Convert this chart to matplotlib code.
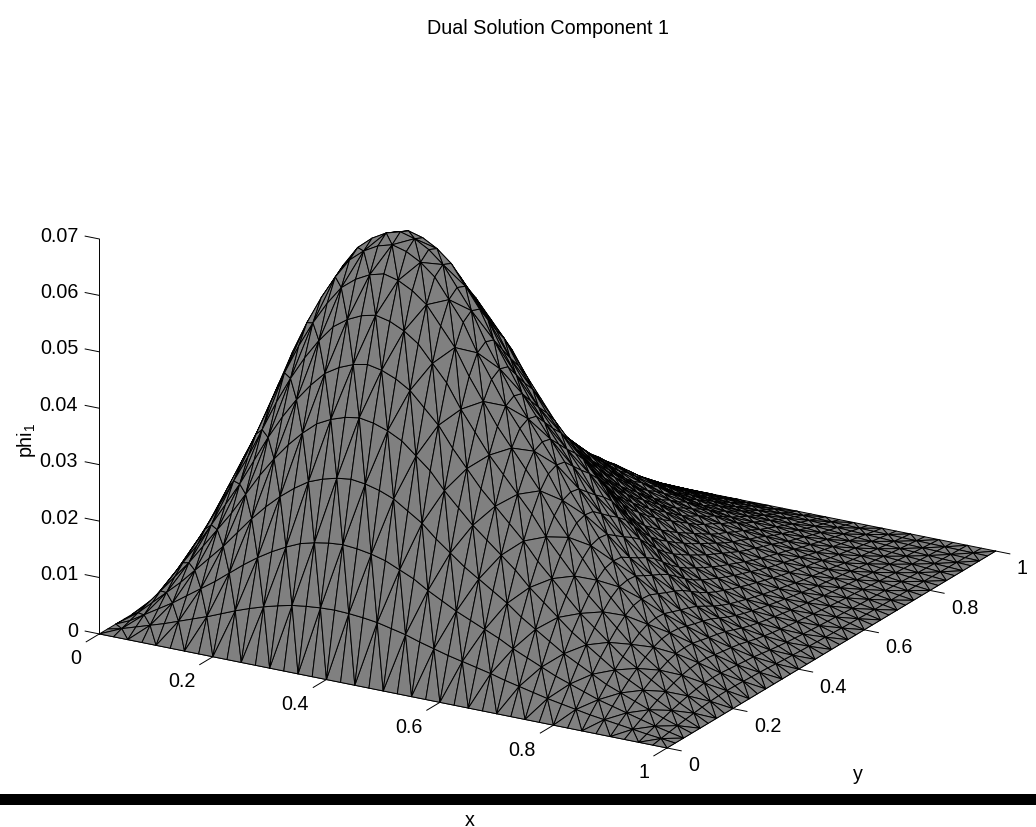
#surface plot of dual solution component 1, gray faces with black triangle mesh
import numpy as np
import matplotlib
matplotlib.use("Agg")
import matplotlib.pyplot as plt
from matplotlib.patches import Rectangle
from matplotlib.transforms import offset_copy

plt.rcParams['font.family'] = ['Liberation Sans', 'DejaVu Sans']
plt.rcParams['mathtext.default'] = 'regular'

#profiles, relative to the peak height
peak = 0.0715
x_nodes = [0,.025,.05,.075,.1,.125,.15,.175,.2,.225,.25,.275,.3,.325,.35,.375,.4,.425,.45,.475,.5,
           .525,.55,.575,.6,.625,.65,.675,.7,.725,.75,.775,.8,.825,.85,.875,.9,.925,.95,.975,1]
x_profile = [0,.05,.12,.19,.26,.34,.42,.50,.59,.68,.76,.83,.89,.94,.97,.99,1,.99,.97,.94,.89,
             .84,.77,.71,.65,.60,.55,.50,.44,.39,.34,.29,.25,.21,.17,.14,.11,.08,.05,.025,0]
y_nodes = x_nodes
y_profile = [0,.16,.31,.46,.60,.72,.83,.92,.98,1,.99,.945,.90,.86,.81,.74,.67,.61,.56,.52,.48,
             .445,.41,.38,.35,.32,.29,.265,.245,.22,.20,.175,.15,.13,.11,.09,.07,.052,.035,.017,0]
x_ticks = [0, .2, .4, .6, .8, 1]
y_ticks = [0, .2, .4, .6, .8, 1]
z_ticks = [0, .01, .02, .03, .04, .05, .06, .07]

fig = plt.figure(figsize=(10.36, 8.27), dpi=100)
ax = fig.add_axes([15.5/1036, -100/827, 1036/1036, 1036/827], projection='3d',
                  proj_type='ortho', computed_zorder=False)
ax.view_init(elev=20.3, azim=-59.93)
ax.set_box_aspect((1, 1, .642), zoom=.9546)
ax.set_axis_off()

#build the triangles, diagonals alternate like a union jack
nx, ny = len(x_nodes), len(y_nodes)
X, Y = np.meshgrid(x_nodes, y_nodes, indexing='ij')
Z = peak*np.outer(x_profile, y_profile)
tris = []
for i in range(nx-1):
    for j in range(ny-1):
        a, b, c, d = i*ny+j, (i+1)*ny+j, (i+1)*ny+j+1, i*ny+j+1
        if (i+j) % 2 == 0:
            tris += [[a, b, c], [a, c, d]]
        else:
            tris += [[a, b, d], [b, c, d]]

lw = .7
#axis lines and ticks go under the surface
ax.plot([0, 0], [0, 0], [0, .07], color='k', lw=lw, zorder=1)
ax.plot([0, 1], [0, 0], [0, 0], color='k', lw=lw, zorder=1)
ax.plot([1, 1], [0, 1], [0, 0], color='k', lw=lw, zorder=1)
for v in x_ticks:
    ax.plot([v, v], [0, -.04], [0, 0], color='k', lw=lw, zorder=1)
for v in y_ticks:
    ax.plot([1, 1.025], [v, v], [0, 0], color='k', lw=lw, zorder=1)
for v in z_ticks:
    ax.plot([0, -.025], [0, 0], [v, v], color='k', lw=lw, zorder=1)

ax.plot_trisurf(X.ravel(), Y.ravel(), Z.ravel(), triangles=tris, color=(.5, .5, .5),
                edgecolor='k', linewidth=lw, shade=False, zorder=2)

ax.set_xlim(0, 1, view_margin=0)
ax.set_ylim(0, 1, view_margin=0)
ax.set_zlim(0, .07, view_margin=0)

fs = 14.2
tr_x = offset_copy(ax.transData, fig=fig, x=-4.5, y=-17, units='dots')
tr_y = offset_copy(ax.transData, fig=fig, x=7, y=-15, units='dots')
tr_z = offset_copy(ax.transData, fig=fig, x=-7, y=0, units='dots')
for v in x_ticks:
    ax.text(v, -.04, 0, '%g' % v, transform=tr_x, ha='right', va='center', fontsize=fs)
for v in y_ticks:
    ax.text(1.025, v, 0, '%g' % v, transform=tr_y, ha='left', va='center', fontsize=fs)
for v in z_ticks:
    ax.text(-.025, 0, v, '%g' % v, transform=tr_z, ha='right', va='center', fontsize=fs)

fig.text(548/1036, 1-29/827, 'Dual Solution Component 1', ha='center', va='center', fontsize=fs)
fig.text(470/1036, 1-820/827, 'x', ha='center', va='center', fontsize=fs)
fig.text(858/1036, 1-774/827, 'y', ha='center', va='center', fontsize=fs)
fig.text(27/1036, 1-440/827, 'phi$_1$', ha='center', va='center', rotation=90, fontsize=fs)

#black strip across the page
fig.add_artist(Rectangle((0, 1-805/827), 1, 11/827, transform=fig.transFigure,
                         facecolor='k', edgecolor='none'))

plt.savefig("out.png", dpi=100)
